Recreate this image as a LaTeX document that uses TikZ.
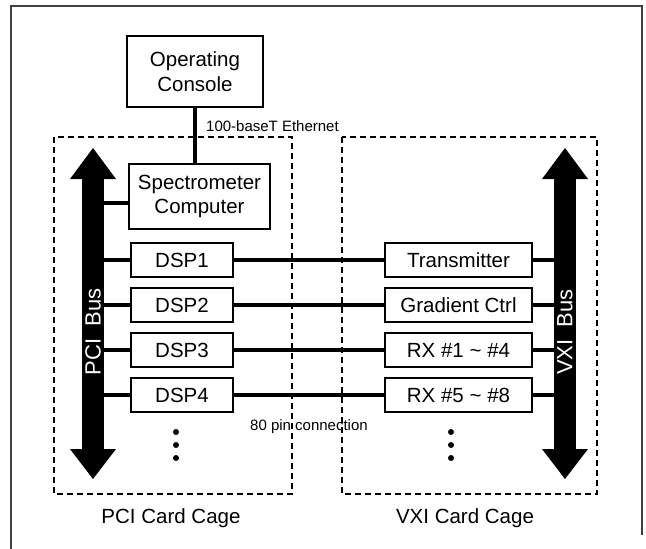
\documentclass[tikz,border=0pt]{standalone}
\usepackage{fontspec}
\setmainfont{Liberation Sans}
\newcommand{\tildech}{{\char`~}}
\begin{document}
\begin{tikzpicture}[x=1pt,y=-1pt,
  frame/.style={draw=black!75,line width=1.2pt},
  cage/.style={draw=black,line width=1.3pt,dash pattern=on 6pt off 4pt},
  box/.style={draw=black,line width=1.4pt,fill=white,inner sep=0pt,align=center,
    font=\fontsize{20.5}{24.5}\selectfont},
  card/.style={box,minimum height=34pt},
  shaft/.style={fill=black,inner sep=0pt,minimum width=22pt,minimum height=272pt},
  buslabel/.style={text=white,rotate=90,font=\fontsize{22}{26}\selectfont},
  link/.style={line width=4pt},
  small/.style={font=\fontsize{15}{18}\selectfont,inner sep=0pt},
  caption/.style={font=\fontsize{20.5}{24.5}\selectfont}]
\useasboundingbox (0,0) rectangle (646,549);

% outer frame (open at the bottom)
\draw[frame] (11,549) -- (11,6) -- (642,6) -- (642,535);

% card cages
\draw[cage] (54,137) rectangle (292,494);
\draw[cage] (342,137) rectangle (597,494);

% PCI bus
\node[shaft] (pcishaft) at (93,314) {};
\fill (70,179) -- (93,148) -- (116,179) -- cycle;
\fill (70,449) -- (93,479) -- (116,449) -- cycle;
\node[buslabel] (pcilabel) at (93,332) {PCI\ \ Bus};

% VXI bus
\node[shaft] (vxishaft) at (565,314) {};
\fill (542,179) -- (565,148) -- (588,179) -- cycle;
\fill (542,449) -- (565,479) -- (588,449) -- cycle;
\node[buslabel] (vxilabel) at (565,332) {VXI\ \ Bus};

% computers
\node[box,minimum width=136pt,minimum height=71pt] (console) at (195,71.5) {Operating\\Console};
\node[box,minimum width=141pt,minimum height=65pt] (spec) at (199.5,196.5) {Spectrometer\\Computer};

% DSP cards
\node[card,minimum width=102pt] (dsp1) at (182,260) {DSP1};
\node[card,minimum width=102pt] (dsp2) at (182,305) {DSP2};
\node[card,minimum width=102pt] (dsp3) at (182,350) {DSP3};
\node[card,minimum width=102pt] (dsp4) at (182,395) {DSP4};

% VXI modules
\node[card,minimum width=147pt] (tx) at (458.5,260) {Transmitter};
\node[card,minimum width=147pt] (grad) at (458.5,305) {Gradient Ctrl};
\node[card,minimum width=147pt] (rxa) at (458.5,350) {RX \#1 \tildech{} \#4};
\node[card,minimum width=147pt] (rxb) at (458.5,395) {RX \#5 \tildech{} \#8};

% connections
\draw[link] (console.south) -- (console.south |- spec.north);
\draw[link] ([yshift=-6pt]spec.west) -- ([yshift=-6pt]spec.west -| pcishaft.east);
\foreach \d/\m in {dsp1/tx,dsp2/grad,dsp3/rxa,dsp4/rxb}{
  \draw[link] (\d.west) -- (\d.west -| pcishaft.east);
  \draw[link] (\d.east) -- (\m.west);
  \draw[link] (\m.east) -- (\m.east -| vxishaft.west);
}

% continuation dots
\foreach \y in {432,445,458}{
  \fill (176,\y) circle (3pt);
  \fill (451,\y) circle (3pt);
}

% labels
\node[small,anchor=west] (eth) at (206,126) {100-baseT Ethernet};
\node[small,anchor=west] (pins) at (250,427) {80 pin connection};
\node[caption] (pcicap) at (171,518) {PCI Card Cage};
\node[caption] (vxicap) at (465,518) {VXI Card Cage};
\end{tikzpicture}
\end{document}
